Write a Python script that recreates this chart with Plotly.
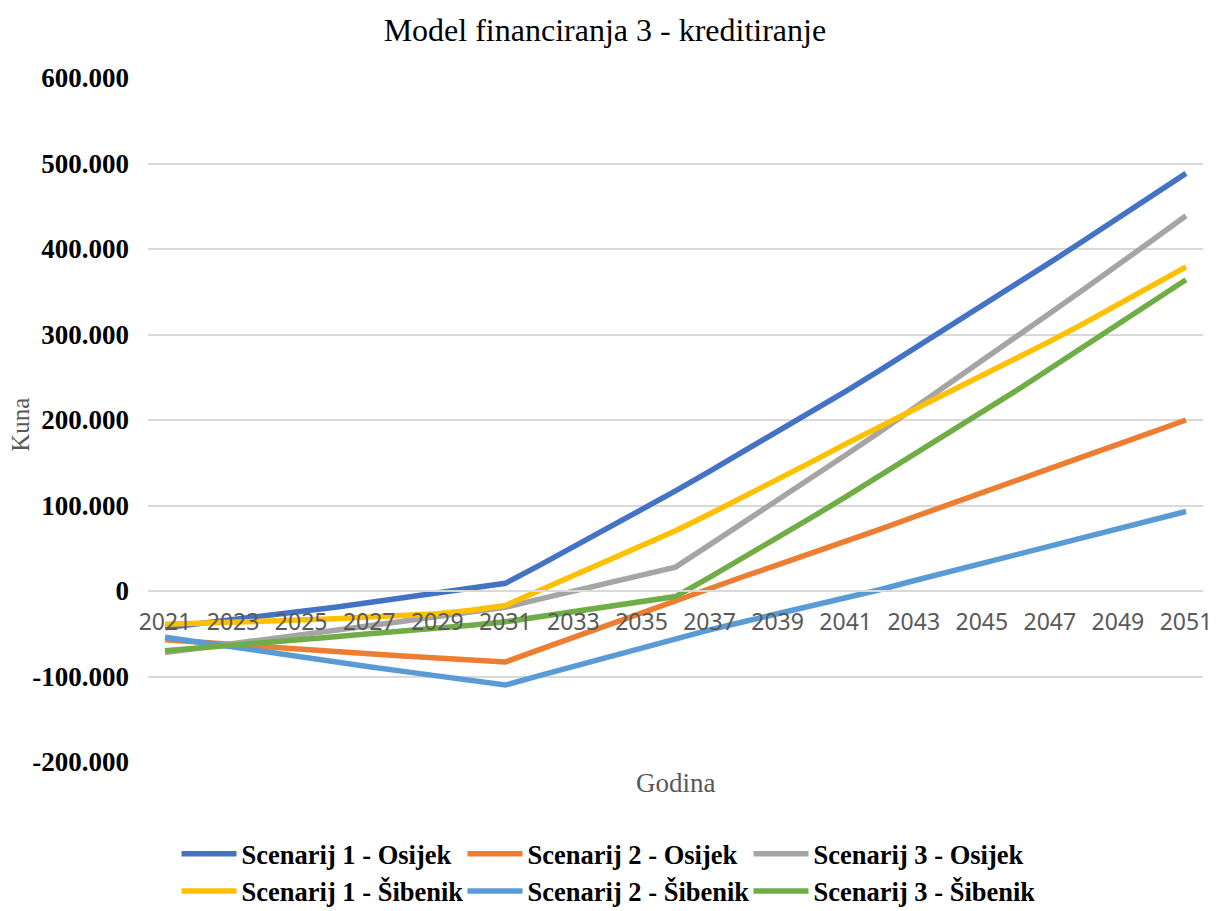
import plotly.graph_objects as go

# Years on the category axis
years = list(range(2021, 2052))

# Net position in kuna, one value per year
s1_osijek = [-43000, -38500, -34000, -29000, -24000, -19000, -13500, -8000, -2500, 3000, 9000,
             30000, 51500, 73000, 95000, 117000,
             140000, 163000, 186000, 210000, 233500,
             258000, 283000, 308000, 333000, 358000,
             384000, 410000, 436000, 462000, 488500]
s2_osijek = [-57000, -60000, -63000, -66000, -68500, -71000, -73500, -76000, -78500, -81000, -83000,
             -68500, -54000, -39500, -25000, -11000,
             3000, 17000, 30500, 44000, 58000,
             72000, 86500, 101000, 115000, 129500,
             143500, 157500, 171500, 186000, 200000]
s3_osijek = [-72000, -67000, -61500, -56000, -51000, -46000, -41000, -35500, -30000, -24500, -19000,
             -9500, 0, 9500, 19000, 28000,
             54000, 80000, 106000, 132000, 159000,
             186000, 213500, 241000, 269000, 297000,
             325000, 353000, 381000, 410000, 439000]
s1_sibenik = [-39000, -38000, -37000, -35500, -34000, -32500, -30500, -28500, -26500, -22500, -17000,
              500, 18000, 35500, 53000, 70500,
              90000, 110000, 130000, 151000, 172000,
              192000, 212000, 232000, 251000, 271000,
              292000, 313000, 335000, 357000, 379000]
s2_sibenik = [-54000, -60000, -66000, -72000, -77500, -83000, -88500, -94000, -99500, -105000, -110000,
              -99000, -88000, -77000, -66000, -55000,
              -45500, -36000, -27000, -18000, -8500,
              1500, 12000, 22000, 32500, 43000,
              53000, 63000, 73000, 83000, 93000]
s3_sibenik = [-70000, -67000, -64000, -60500, -57000, -53500, -50000, -47000, -43500, -40000, -36000,
              -30000, -24000, -18500, -12500, -6500,
              16000, 39000, 62000, 86000, 110000,
              134500, 159000, 184000, 209000, 234000,
              260000, 286000, 312000, 338000, 364000]

series = [
    ("Scenarij 1 - Osijek", s1_osijek, "#4472C4"),
    ("Scenarij 2 - Osijek", s2_osijek, "#ED7D31"),
    ("Scenarij 3 - Osijek", s3_osijek, "#A5A5A5"),
    ("Scenarij 1 - Šibenik", s1_sibenik, "#FFC000"),
    ("Scenarij 2 - Šibenik", s2_sibenik, "#5B9BD5"),
    ("Scenarij 3 - Šibenik", s3_sibenik, "#70AD47"),
]

# Y ticks with '.' as thousands separator and a plain hyphen for negatives
y_ticks = [-200000, -100000, 0, 100000, 200000, 300000, 400000, 500000, 600000]
y_tick_text = [f"{v:,}".replace(",", ".") for v in y_ticks]
x_ticks = years[::2]

SERIF = "Liberation Serif, Times New Roman, serif"
SANS = "Noto Sans, Open Sans, sans-serif"

fig = go.Figure()
for name, vals, color in series:
    fig.add_trace(go.Scatter(
        x=years, y=vals, name=name, mode="lines",
        line=dict(color=color, width=5.5),
    ))

fig.update_layout(
    width=1222, height=911,
    margin=dict(l=148, r=10, t=78, b=149),
    paper_bgcolor="white", plot_bgcolor="white",
    title=dict(text="Model financiranja 3 - kreditiranje",
               x=0.495, xref="container", xanchor="center",
               y=0.967, yref="container", yanchor="middle",
               font=dict(family=SERIF, size=32, color="#000000")),
    xaxis=dict(
        range=[2020.5, 2051.5],
        tickvals=x_ticks, ticktext=[str(v) for v in x_ticks],
        tickfont=dict(family=SANS, size=23, color="#595959"),
        showgrid=False, zeroline=False,
        showline=True, linecolor="#D9D9D9", linewidth=1.5,
        anchor="free", position=0.25,
        ticks="", ticklabelstandoff=11,
    ),
    yaxis=dict(
        range=[-200000, 600000],
        tickvals=y_ticks, ticktext=y_tick_text,
        tickfont=dict(family=SERIF, size=27, color="#000000", weight="bold"),
        showgrid=True, gridcolor="#D9D9D9", gridwidth=1.5,
        zeroline=False, showline=False, ticks="",
        ticklabelstandoff=18,
    ),
    legend=dict(
        orientation="h",
        xref="container", x=0.4955, xanchor="center",
        yref="container", y=0.089, yanchor="top",
        font=dict(family=SERIF, size=26.5, color="#000000", weight="bold"),
        entrywidth=216, entrywidthmode="pixels",
        itemwidth=55,
        tracegroupgap=0,
    ),
    annotations=[
        dict(text="Kuna", xref="paper", yref="paper", x=-0.1203, y=0.493,
             xanchor="center", yanchor="middle",
             textangle=-90, showarrow=False,
             font=dict(family=SERIF, size=25, color="#595959")),
        dict(text="Godina", xref="paper", yref="paper", x=0.5, y=-0.0307,
             showarrow=False, xanchor="center", yanchor="middle",
             font=dict(family=SERIF, size=27, color="#595959")),
    ],
    showlegend=True,
)

fig.write_html("out.html")
